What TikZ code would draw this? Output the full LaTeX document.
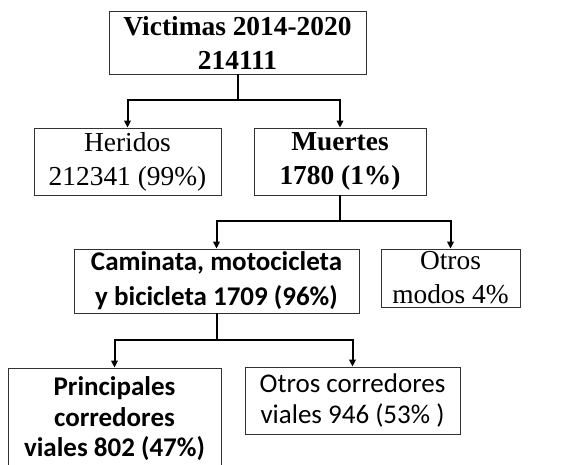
\documentclass[tikz,border=0pt]{standalone}
\usepackage{fontspec}
\setmainfont{Liberation Serif}
\newfontfamily\romana{Liberation Serif}
\newfontfamily\carlito{Carlito}
\usetikzlibrary{arrows.meta}
\tikzset{
  caja/.style={draw=black!80, line width=0.8pt, inner sep=0pt, align=center},
  romano/.style={font=\romana\fontsize{27.4}{34}\selectfont},
  sans/.style={font=\carlito\fontsize{27}{35}\selectfont},
  sansb/.style={font=\carlito\fontsize{27}{30.5}\selectfont},
  conector/.style={line width=2pt, -{Triangle[length=7pt,width=6.5pt]}}
}
\begin{document}
\begin{tikzpicture}[x=1pt,y=-1pt]
\useasboundingbox[fill=white] (0,0) rectangle (576,464);
% primer nivel
\node[caja,romano,minimum width=257pt,minimum height=63pt] (vic) at (237.5,42.5)
  {\textbf{Victimas 2014-2020}\\\textbf{214111}};
% segundo nivel
\node[caja,romano,minimum width=187pt,minimum height=67pt] (her) at (127.5,161.5)
  {Heridos\\212341 (99\%)};
\node[caja,romano,minimum width=172pt,minimum height=67pt] (mue) at (340,161.5)
  {\textbf{Muertes}\\\textbf{1780 (1\%)}};
% tercer nivel
\node[caja,sans,minimum width=285pt,minimum height=64pt] (cam) at (216.5,281)
  {\textbf{Caminata, motocicleta}\\\textbf{y bicicleta 1709 (96\%)}};
\node[caja,romano,minimum width=139pt,minimum height=58pt] (mod) at (450.5,278)
  {Otros\\modos 4\%};
% cuarto nivel (la caja sigue bajo el borde)
\node[caja,sansb,minimum width=213pt,minimum height=102pt] (pri) at (114.5,419)
  {\textbf{Principales}\\\textbf{corredores}\\\textbf{viales 802 (47\%)}};
\node[caja,sansb,minimum width=215pt,minimum height=67pt] (cor) at (352.5,400.5)
  {Otros corredores\\viales 946 (53\% )};
% conectores
\draw[conector] (vic.south) -- ++(0,26) -| (her.north);
\draw[conector] (vic.south) -- ++(0,26) -| (mue.north);
\draw[conector] (mue.south) -- ++(0,26) -| (cam.north);
\draw[conector] (mue.south) -- ++(0,26) -| (mod.north);
\draw[conector] (cam.south) -- ++(0,27) -| (pri.north);
\draw[conector] (cam.south) -- ++(0,27) -| (cor.north);
\end{tikzpicture}
\end{document}
